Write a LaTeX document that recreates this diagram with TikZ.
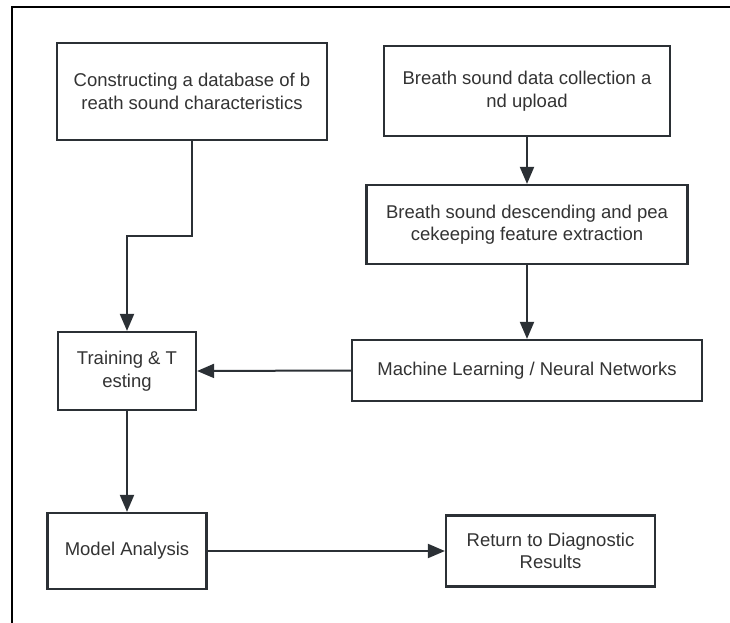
\documentclass[tikz,border=0pt]{standalone}
\usepackage{fontspec}
\setmainfont{Liberation Sans}
\usetikzlibrary{arrows.meta}
\definecolor{boxline}{HTML}{2B3035}
\definecolor{txt}{HTML}{333333}
\tikzset{
  stepbox/.style={draw=boxline, line width=2.2pt, fill=white, text=txt,
    align=center, inner sep=0pt,
    font=\fontsize{18.5}{22.5}\selectfont},
  arr/.style={draw=boxline, line width=2pt,
    -{Triangle[length=17pt,width=14pt]}},
}
\begin{document}
\begin{tikzpicture}[x=1pt,y=-1pt]
\useasboundingbox (0,0) rectangle (730,623);
\draw[line width=2pt, black] (12,623) -- (12,7) -- (730,7);

\node[stepbox, minimum width=270pt, minimum height=97pt] (A) at (192,91.5)
  {Constructing a database of b\\reath sound characteristics};
\node[stepbox, minimum width=286pt, minimum height=90pt] (B) at (527,91)
  {Breath sound data collection a\\nd upload};
\node[stepbox, minimum width=321pt, minimum height=79pt] (C) at (527,224.5)
  {Breath sound descending and pea\\cekeeping feature extraction};
\node[stepbox, minimum width=350pt, minimum height=61pt] (D) at (527,370.5)
  {Machine Learning / Neural Networks};
\node[stepbox, minimum width=138pt, minimum height=78pt] (E) at (127,371)
  {Training \& T\\esting};
\node[stepbox, minimum width=159pt, minimum height=76pt] (F) at (127,551)
  {Model Analysis};
\node[stepbox, minimum width=209pt, minimum height=71pt] (G) at (550.5,551)
  {Return to Diagnostic\\Results};

\coordinate (bend) at (127,236);
\draw[arr] (A.south) |- (bend) -- (E.north);
\draw[arr] (B.south) -- (C.north);
\draw[arr] (C.south) -- (D.north);
\draw[arr] (D.west) -- (E.east);
\draw[arr] (E.south) -- (F.north);
\draw[arr] (F.east) -- (G.west);
\end{tikzpicture}
\end{document}
